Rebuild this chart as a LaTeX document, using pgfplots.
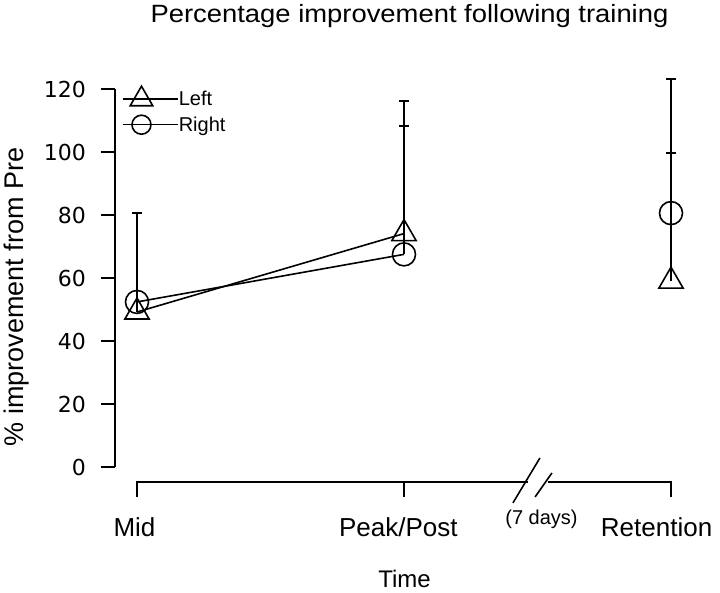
\documentclass[border=0pt]{standalone}
\usepackage{graphicx}
\usepackage{fontspec}
\setmainfont{Liberation Sans}
\newfontfamily\tickfont{DejaVu Sans}
\usepackage{pgfplots}
\pgfplotsset{compat=1.18}
\begin{document}
\begin{tikzpicture}
\path[use as bounding box] (-115pt,-126pt) rectangle (605pt,467pt);
\begin{axis}[
  at={(0pt,0pt)}, anchor=south west,
  scale only axis, width=596pt, height=378pt,
  xmin=-0.0824, xmax=2.1498, ymin=0, ymax=120,
  clip=false,
  axis x line=none,
  axis y line=left,
  y axis line style={-, line width=1.6pt},
  xtick=\empty,
  ytick={0,20,...,120},
  tick align=outside,
  major tick length=14pt,
  ytick style={line width=1.6pt, black},
  /pgf/number format/assume math mode=true,
  yticklabel style={font=\tickfont\fontsize{22}{22}\selectfont, inner sep=0pt, xshift=-15pt},
  ylabel={\% improvement from Pre},
  ylabel style={at={(axis description cs:-0.1527,0.4497)}, anchor=base, font=\fontsize{27}{27}\selectfont},
  legend style={draw=none, fill=none, at={(axis description cs:0.0117,1.0079)}, anchor=north west,
    font=\fontsize{20}{20}\selectfont, inner sep=0pt, column sep=0pt, row sep=8pt, nodes={inner sep=0pt}},
  legend cell align=left,
  legend image code/.code={\draw[mark repeat=2, mark phase=2, #1] plot coordinates {(0pt,0pt) (18.5pt,0pt) (37pt,0pt)}; \path (0pt,0pt) -- (55pt,0pt);},
]
% error bars (drawn first, under the markers)
\addplot[forget plot, draw=none, mark=none,
  error bars/.cd, y dir=plus, y explicit,
  error bar style={draw=black, line width=1.6pt},
  error mark options={rotate=90, draw=black, line width=1.6pt, mark size=5pt}]
  coordinates {(0,49.2) +- (0,31.4) (1,74.1) +- (0,42.1) (2,59.0) +- (0,40.6)};
\addplot[forget plot, draw=none, mark=none,
  error bars/.cd, y dir=plus, y explicit,
  error bar style={draw=black, line width=1.6pt},
  error mark options={rotate=90, draw=black, line width=1.6pt, mark size=5pt}]
  coordinates {(0,52.4) +- (0,28.2) (1,67.5) +- (0,40.8) (2,80.6) +- (0,42.6)};
% lines with markers
\addplot[forget plot, black, line width=1.6pt, mark=triangle, mark size=14pt, mark options={fill=white, solid}]
  coordinates {(0,49.2) (1,74.1)};
\addplot[forget plot, black, line width=1.6pt, mark=o, mark size=11.5pt, mark options={fill=white, solid}]
  coordinates {(0,52.4) (1,67.5)};
% retention markers
\addplot[forget plot, black, only marks, line width=1.6pt, mark=triangle, mark size=14pt, mark options={fill=white, solid}]
  coordinates {(2,59.0)};
\addplot[forget plot, black, only marks, line width=1.6pt, mark=o, mark size=11.5pt, mark options={fill=white, solid}]
  coordinates {(2,80.6)};
% legend
\addlegendimage{black, line width=1.6pt, mark=triangle, mark size=13pt, mark options={fill=white}}
\addlegendentry{Left}
\addlegendimage{black, line width=1.6pt, mark=o, mark size=9.5pt, mark options={fill=white}}
\addlegendentry{Right}
% broken x axis
\draw[line width=1.6pt] (axis cs:0,-9.5) -- (axis cs:0,-4.76) -- (axis cs:1.464,-4.76);
\draw[line width=1.6pt] (axis cs:1,-4.76) -- (axis cs:1,-9.5);
\draw[line width=1.6pt] (axis cs:1.539,-4.76) -- (axis cs:2,-4.76) -- (axis cs:2,-9.5);
\draw[line width=1.6pt] (axis cs:1.408,-11.4) -- (axis cs:1.509,2.86);
\draw[line width=1.6pt] (axis cs:1.491,-9.5) -- (axis cs:1.554,-1.9);
% title
\node[anchor=base, inner sep=0pt, font=\fontsize{25}{25}\selectfont] at (axis description cs:0.4941,1.1772)
  {\scalebox{1.096}[1]{Percentage improvement following training}};
% x category labels
\node[anchor=base, font=\fontsize{26}{26}\selectfont] at (axis cs:-0.0094,-22.2) {Mid};
\node[anchor=base, font=\fontsize{26}{26}\selectfont] at (axis cs:0.979,-22.2) {Peak/Post};
\node[anchor=base, font=\fontsize{26}{26}\selectfont] at (axis cs:1.946,-22.2) {Retention};
\node[anchor=base, font=\fontsize{20}{20}\selectfont] at (axis cs:1.515,-18.4) {(7 days)};
\node[anchor=base, font=\fontsize{24}{24}\selectfont] at (axis description cs:0.4857,-0.3201) {Time};
\end{axis}
\end{tikzpicture}
\end{document}
